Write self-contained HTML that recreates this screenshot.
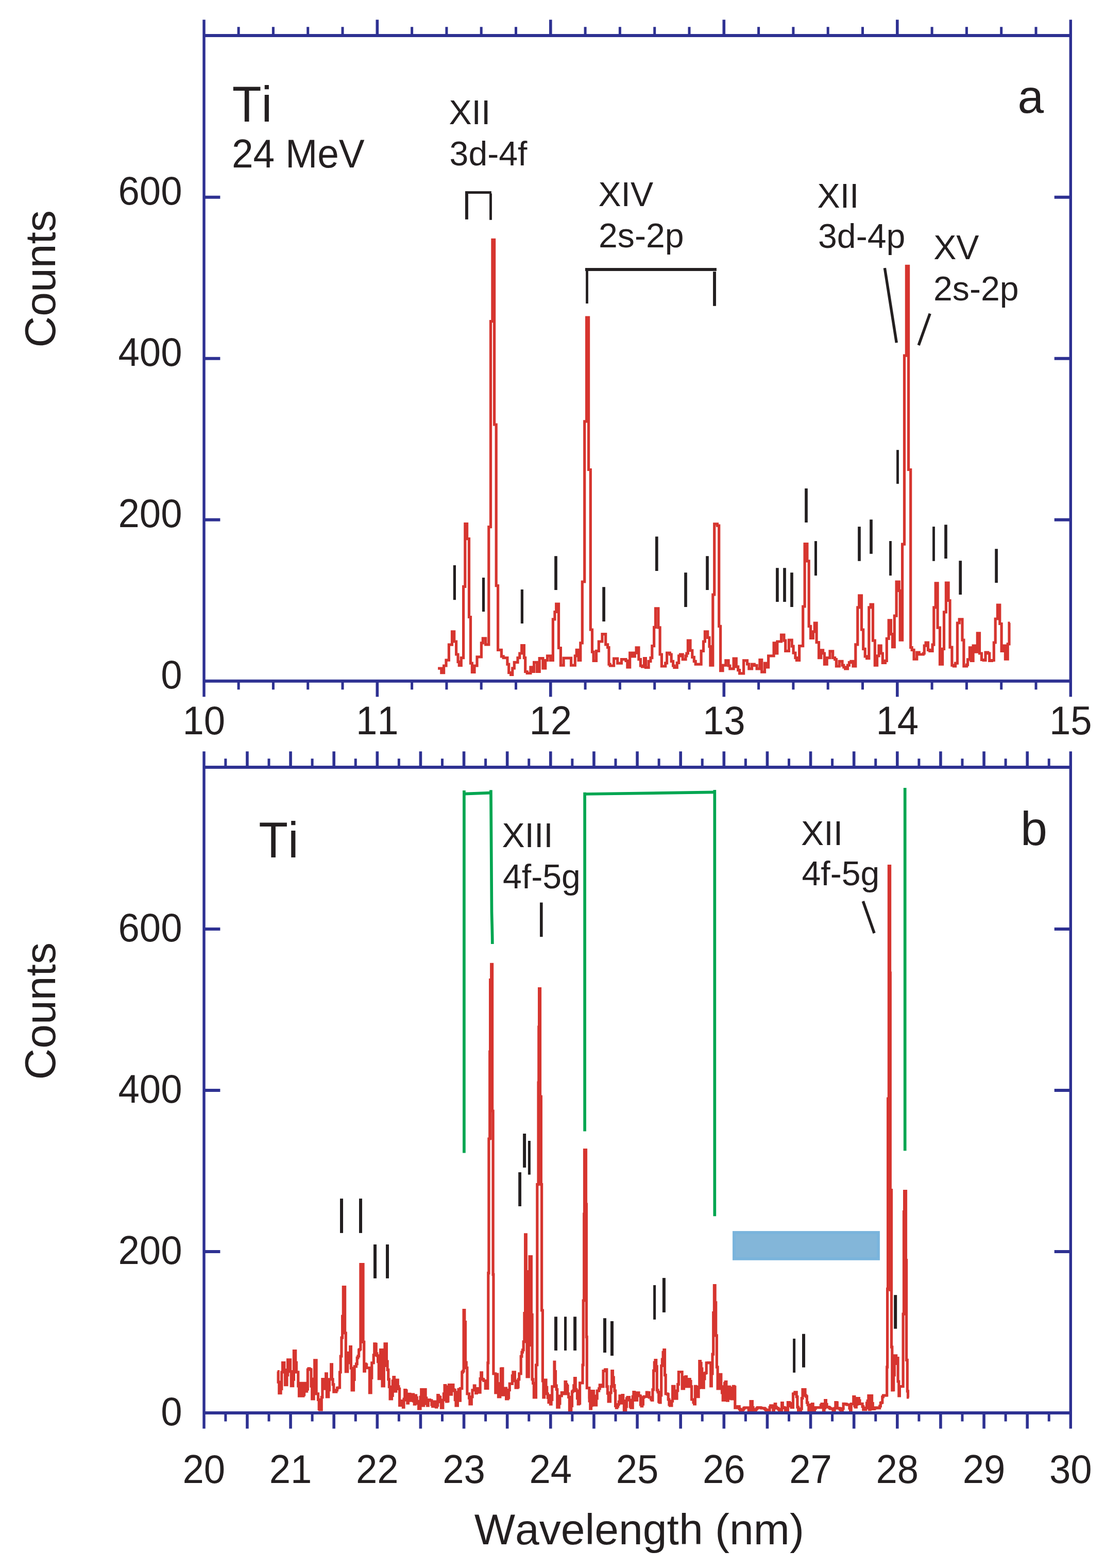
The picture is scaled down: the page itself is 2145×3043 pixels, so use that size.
<!DOCTYPE html>
<html lang="en"><head><meta charset="utf-8"><title>Ti spectra</title>
<style>html,body{margin:0;padding:0;background:#fff}body{width:2145px;height:3043px;overflow:hidden}svg{display:block}text{font-kerning:none;font-family:"Liberation Sans",sans-serif;fill:#231f20}</style>
</head><body>
<svg width="2145" height="3043" viewBox="0 0 2145 3043">
<rect width="2145" height="3043" fill="#fff"/>
<g fill="none" stroke="#d6352f" stroke-width="5.2" stroke-linejoin="miter" stroke-miterlimit="10">
<path d="M850.1 1297.2H856.8V1305.6H861.6V1292.0H866.0V1281.1H871.4V1251.2H877.5V1225.9H881.7V1245.0H885.6V1270.0H889.0V1284.3H891.3V1291.4H895.3V1276.7H899.6V1138.3H902.8V1016.5H906.6V1045.7H910.5V1197.5H913.5V1287.2H916.4V1304.5H921.0V1292.0H926.0V1274.8H934.4V1247.9H937.3V1238.9H942.7V1250.8H948.8V1022.7H952.5V623.6H955.9V465.3H959.6V824.0H963.2V1136.7H966.6V1261.3H973.4V1273.8H977.2V1276.7H984.9V1289.1H987.7V1305.4H991.6V1309.3H994.8V1296.8H998.3V1285.3H1005.0V1276.7H1008.8V1268.0H1012.7V1252.7H1017.4V1276.7H1019.7V1303.5H1023.2V1306.4H1029.9V1294.9H1032.8V1303.5H1036.6V1285.3H1042.4V1303.5H1047.2V1277.6H1053.9V1296.8H1058.7V1281.5H1062.5V1272.8H1068.2V1281.5H1073.4V1201.9H1076.9V1187.5H1079.7V1172.2H1084.5V1257.5H1088.4V1291.1H1094.1V1277.2H1101.9V1277.2H1108.6V1291.1H1116.3V1272.8H1119.2V1261.3H1123.0V1281.5H1126.8V1247.9H1130.3V1129.0H1134.7V817.8H1138.6V616.2H1142.6V911.5H1146.3V1222.0H1149.5V1265.2H1152.1V1282.4H1157.5V1263.3H1162.3V1245.0H1169.0V1230.7H1175.7V1250.8H1179.6V1256.5H1182.0V1289.1H1184.3V1292.0H1191.6V1278.0H1198.7V1287.2H1206.4V1279.6H1215.0V1282.4H1217.9V1294.9H1222.7V1267.1H1227.5V1273.8H1232.3V1267.1H1235.1V1256.9H1239.9V1279.6H1243.4V1292.0H1246.6V1293.9H1250.5V1277.6H1253.4V1295.3H1259.1V1283.4H1262.9V1276.7H1265.8V1253.7H1269.6V1217.3H1272.5V1180.8H1277.9V1217.8H1281.1V1270.0H1284.4V1293.0H1291.7V1286.8H1294.6V1267.1H1300.3V1270.0H1303.2V1283.4H1306.6V1292.0H1308.9V1295.3H1314.3V1286.3H1317.6V1272.8H1320.4V1270.0H1325.2V1279.6H1331.0V1272.8H1332.9V1268.0H1335.4V1243.1H1340.0V1262.3H1343.8V1275.3H1347.3V1283.4H1350.2V1289.1H1361.1V1263.3H1365.5V1245.0H1368.4V1225.9H1373.7V1237.4H1377.0V1254.6H1378.9V1291.1H1383.8V1154.0H1386.7V1016.9H1392.5V1020.2H1395.7V1215.3H1398.6V1301.6H1403.0V1291.1H1408.8V1281.9H1414.1V1292.0H1416.8V1297.8H1424.1V1278.0H1429.3V1293.9H1432.7V1300.6H1435.6V1306.8H1443.6V1281.9H1450.5V1288.8H1453.8V1297.8H1459.6V1289.1H1464.3V1291.4H1469.1V1297.8H1474.9V1280.5H1478.7V1304.1H1484.5V1287.2H1487.3V1294.9H1491.6V1272.8H1502.1V1247.9H1505.6V1268.0H1508.8V1245.0H1516.5V1232.0H1521.9V1243.1H1524.7V1263.3H1531.4V1242.2H1537.2V1254.2H1540.1V1267.1H1543.9V1276.7H1546.4V1281.5H1551.6V1253.7H1558.7V1177.0H1562.1V1055.7H1566.9V1088.8H1570.2V1215.3H1573.6V1238.3H1578.4V1225.9H1581.3V1209.0H1585.1V1246.6H1589.5V1276.7H1593.7V1261.9H1597.6V1268.0H1600.4V1289.1H1605.2V1276.7H1611.0V1263.8H1616.7V1276.7H1620.6V1279.6H1623.4V1293.0H1629.2V1283.4H1635.0V1291.1H1637.8V1294.9H1640.7V1297.8H1645.5V1291.1H1648.4V1285.7H1651.8V1283.4H1656.0V1293.0H1660.8V1250.8H1664.8V1178.9H1667.7V1155.9H1672.5V1222.0H1675.7V1259.4H1679.2V1273.8H1682.6V1277.6H1686.8V1178.9H1690.1V1173.2H1694.5V1243.1H1698.3V1291.1H1702.6V1272.8H1706.0V1253.1H1710.2V1268.0H1713.3V1286.3H1718.5V1282.4H1721.3V1239.3H1725.2V1203.8H1729.4V1230.7H1732.5V1255.6H1736.3V1195.2H1740.1V1129.1H1745.3V1146.3H1747.2V1242.2H1751.6V1056.2H1755.5V690.2H1759.4V516.4H1763.6V911.5H1767.7V1256.5H1770.2V1261.3H1774.1V1279.2H1779.8V1266.1H1784.2V1270.0H1792.3V1268.0H1794.2V1253.1H1797.1V1247.0H1801.5V1261.3H1804.7V1263.3H1810.1V1251.2H1812.8V1178.9H1816.2V1131.9H1820.1V1218.2H1824.5V1289.1H1829.6V1259.4H1832.5V1187.9H1836.4V1131.0H1841.1V1165.5H1844.0V1256.2H1847.9V1291.1H1851.3V1293.0H1854.6V1287.2H1858.4V1209.0H1862.2V1201.9H1868.0V1242.2H1870.9V1293.0H1876.6V1290.1H1878.5V1279.9H1882.4V1256.9H1885.2V1282.4H1889.1V1253.1H1892.9V1265.2H1897.3V1228.8H1901.5V1268.0H1905.4V1280.5H1909.2V1281.5H1913.0V1266.1H1917.8V1268.0H1920.7V1282.4H1925.5V1281.5H1929.3V1247.0H1932.2V1201.0H1936.4V1174.1H1940.8V1210.5H1944.1V1263.3H1947.5V1253.1H1951.4V1279.2H1956.2V1249.8H1959.0V1209.0H1960.6"/>
<path d="M538.6 2661.6H540.1V2682.2H541.8V2703.6H543.4V2703.6H545.1V2695.3H546.8V2663.0H548.5V2644.7H550.2V2644.7H551.9V2658.6H553.5V2687.6H555.2V2687.6H556.9V2668.7H558.6V2638.8H560.3V2638.8H562.0V2638.8H563.6V2661.6H565.3V2689.7H567.0V2689.7H568.7V2677.1H570.4V2621.7H572.1V2621.7H573.7V2644.3H575.4V2662.8H577.1V2662.8H578.8V2690.0H580.5V2709.2H582.1V2706.7H583.8V2684.4H585.5V2684.4H587.2V2709.2H588.9V2706.8H590.6V2684.4H592.2V2687.6H593.9V2700.1H595.6V2696.2H597.3V2658.0H599.0V2655.8H600.7V2657.0H602.3V2657.9H604.0V2690.1H605.7V2714.8H607.4V2714.8H609.1V2676.1H610.7V2639.8H612.4V2639.8H614.1V2704.8H615.8V2704.8H617.5V2716.4H619.2V2734.7H620.8V2735.9H622.5V2735.9H624.2V2711.6H625.9V2676.7H627.6V2676.7H629.3V2695.2H630.9V2686.9H632.6V2665.9H634.3V2710.8H636.0V2710.8H637.7V2697.7H639.4V2676.9H641.0V2676.9H642.7V2647.8H644.4V2676.9H646.1V2686.8H647.8V2701.1H649.4V2701.1H651.1V2701.1H652.8V2697.9H654.5V2693.7H656.2V2693.0H657.9V2693.0H659.5V2663.0H661.2V2632.0H662.9V2596.2H664.6V2554.4H666.3V2497.7H668.0V2497.7H669.6V2587.0H671.3V2661.8H673.0V2661.8H674.7V2644.8H676.4V2625.4H678.0V2625.4H679.7V2613.7H681.4V2655.2H683.1V2698.0H684.8V2698.0H686.5V2677.4H688.1V2651.8H689.8V2651.8H691.5V2646.8H693.2V2635.1H694.9V2631.8H696.6V2619.8H698.2V2618.5H699.9V2453.7H701.6V2453.7H703.3V2453.7H705.0V2604.3H706.7V2661.1H708.3V2646.8H710.0V2648.4H711.7V2654.6H717.4V2702.9H718.4V2702.9H720.1V2674.2H721.8V2644.9H723.5V2644.9H725.2V2629.9H726.8V2607.8H728.5V2608.6H730.2V2626.8H731.9V2630.8H733.6V2642.7H735.3V2675.7H736.9V2671.2H738.6V2619.6H740.3V2619.6H742.0V2689.9H743.7V2689.9H745.3V2650.4H747.0V2607.8H748.7V2607.8H750.4V2642.1H752.1V2658.3H753.8V2676.9H755.4V2691.4H757.1V2715.0H758.8V2715.0H760.5V2708.4H762.2V2679.9H763.9V2672.6H765.5V2686.4H767.2V2700.1H768.9V2683.9H770.6V2678.1H772.3V2690.9H774.0V2695.4H775.6V2727.3H777.3V2727.2H779.0V2718.6H780.7V2720.8H782.4V2731.2H784.0V2715.2H785.7V2697.7H787.4V2698.9H789.1V2717.2H790.8V2723.1H792.5V2713.7H794.1V2705.3H795.8V2711.1H797.5V2718.2H799.2V2718.2H800.9V2706.0H802.6V2719.2H804.2V2725.2H805.9V2708.1H807.6V2712.4H809.3V2719.3H811.0V2723.6H812.6V2734.0H814.3V2734.0H816.0V2711.3H817.7V2696.5H819.4V2696.5H821.1V2728.0H822.7V2698.1H824.4V2696.5H826.1V2713.2H827.8V2724.2H829.5V2728.0H831.2V2716.5H832.8V2716.7H834.5V2717.9H836.2V2717.9H837.9V2726.2H839.6V2729.4H841.2V2727.3H842.9V2720.0H844.6V2722.6H846.3V2730.8H848.0V2727.6H849.7V2707.7H851.3V2710.4H853.0V2711.6H854.7V2720.7H856.4V2732.2H858.1V2732.2H859.8V2717.0H861.4V2704.8H863.1V2688.6H864.8V2696.3H866.5V2720.0H868.2V2719.1H869.9V2691.1H871.5V2687.6H873.2V2696.2H874.9V2706.1H876.6V2699.1H878.3V2687.6H879.9V2696.9H881.6V2697.8H883.3V2716.7H885.0V2728.0H886.7V2728.0H888.4V2701.9H890.0V2696.3H891.7V2718.2H893.4V2694.6H895.1V2694.6H896.8V2663.1H898.5V2660.9H900.1V2542.7H901.8V2565.5H903.5V2644.2H905.2V2654.7H906.9V2704.8H908.6V2704.8H910.5V2713.2H911.9V2724.8H913.6V2724.8H915.3V2710.9H917.0V2697.8H918.6V2697.8H920.3V2689.0H922.0V2695.9H923.7V2703.6H925.4V2699.3H927.1V2694.6H928.7V2702.2H930.4V2702.2H932.1V2675.6H933.8V2663.9H935.5V2676.4H937.2V2676.9H938.8V2679.5H940.5V2679.5H942.2V2694.5H946.9V2644.9H947.8V2470.7H948.9V2210.0H950.7V2041.0H951.6V1901.5H953.7V1871.3H955.6V2156.0H957.1V2473.4H957.9V2665.8H961.8V2702.9H962.4V2674.7H964.1V2667.0H965.8V2684.8H967.4V2710.8H969.1V2710.8H970.8V2697.8H972.5V2656.3H974.2V2655.8H975.9V2707.1H977.5V2707.1H979.2V2698.5H980.9V2694.2H982.6V2714.8H984.3V2714.8H985.9V2712.7H987.6V2697.7H989.3V2685.3H991.0V2685.3H992.7V2685.3H994.4V2669.9H996.0V2662.8H997.7V2662.8H999.4V2679.9H1001.1V2693.1H1002.8V2693.1H1004.5V2692.0H1006.1V2676.8H1007.8V2665.8H1009.5V2665.8H1011.2V2632.3H1012.9V2624.1H1014.5V2619.8H1016.2V2603.8H1017.9V2548.7H1019.6V2395.8H1021.3V2467.6H1023.0V2671.8H1024.6V2671.8H1026.3V2610.7H1028.0V2438.6H1029.7V2438.6H1031.4V2551.4H1033.1V2676.9H1034.7V2684.3H1036.4V2712.0H1040.5V2649.0H1042.8V2298.6H1045.0V2101.2H1045.8V1993.1H1046.6V1918.7H1048.5V2128.2H1050.4V2298.6H1051.6V2543.0H1053.4V2680.0H1054.9V2712.0H1054.9V2712.0H1056.6V2688.5H1058.3V2678.1H1060.0V2692.4H1061.7V2704.8H1063.3V2712.4H1065.0V2721.7H1066.7V2708.1H1068.4V2725.2H1070.1V2716.5H1071.8V2690.9H1076.0V2643.0H1076.8V2661.5H1078.5V2689.0H1080.2V2696.5H1081.8V2731.2H1083.5V2731.2H1085.2V2724.0H1086.9V2709.0H1088.6V2709.0H1090.3V2702.5H1091.9V2702.8H1093.6V2704.5H1095.3V2704.8H1097.0V2681.6H1098.7V2686.9H1100.4V2689.5H1102.0V2704.8H1103.7V2711.3H1105.4V2737.1H1107.1V2737.1H1108.8V2728.4H1110.5V2700.8H1112.1V2699.2H1113.8V2688.9H1115.5V2674.7H1117.2V2696.4H1118.9V2699.2H1120.5V2713.6H1122.2V2724.8H1123.9V2723.4H1125.6V2683.9H1131.0V2649.0H1132.2V2524.0H1133.7V2356.0H1134.5V2231.6H1137.5V2337.0H1138.4V2594.7H1139.3V2693.7H1143.9V2711.8H1144.1V2718.9H1145.8V2734.0H1147.5V2727.6H1149.1V2699.7H1150.8V2699.7H1152.5V2709.0H1154.2V2727.0H1155.9V2727.0H1157.6V2713.8H1159.2V2699.2H1160.9V2699.2H1162.6V2694.9H1164.3V2687.9H1166.0V2687.9H1167.7V2688.8H1169.3V2690.9H1171.0V2660.7H1172.7V2660.7H1174.4V2658.2H1176.1V2657.9H1177.8V2690.9H1179.4V2704.1H1181.1V2720.0H1182.8V2720.0H1184.5V2702.9H1186.2V2690.9H1187.8V2660.7H1189.5V2673.0H1191.2V2688.5H1192.9V2699.2H1194.6V2728.4H1196.3V2732.2H1197.9V2729.3H1199.6V2725.7H1201.3V2720.4H1203.0V2708.8H1204.7V2723.1H1206.4V2716.6H1208.0V2707.7H1209.7V2718.7H1211.4V2737.1H1213.1V2737.1H1214.8V2730.0H1216.4V2714.0H1218.1V2711.6H1219.8V2711.6H1221.5V2717.2H1223.2V2729.8H1224.9V2732.2H1226.5V2732.2H1228.2V2710.4H1229.9V2701.6H1231.6V2703.5H1233.3V2717.5H1235.0V2717.5H1236.6V2702.9H1238.3V2702.9H1240.0V2708.7H1241.7V2709.0H1243.4V2726.0H1245.1V2729.0H1246.7V2725.1H1248.4V2711.8H1250.1V2710.4H1255.3V2702.0H1256.8V2702.5H1258.5V2702.5H1260.2V2711.8H1261.9V2711.8H1263.6V2715.1H1265.2V2717.3H1266.9V2696.9H1268.6V2660.2H1270.3V2644.2H1272.0V2639.5H1273.7V2651.8H1275.3V2697.8H1277.0V2701.6H1278.7V2720.1H1280.4V2722.0H1282.1V2708.0H1283.7V2650.5H1285.4V2638.1H1287.1V2624.4H1288.8V2619.6H1290.5V2668.6H1292.2V2704.8H1293.8V2704.8H1295.5V2705.8H1297.2V2715.9H1298.9V2726.0H1300.6V2728.0H1302.3V2728.0H1303.9V2719.1H1305.6V2690.4H1307.3V2690.4H1309.0V2702.7H1310.7V2714.1H1312.4V2714.1H1314.0V2699.0H1315.7V2686.7H1317.4V2662.5H1319.1V2662.5H1320.8V2662.5H1322.4V2662.5H1324.1V2695.0H1325.8V2695.0H1327.5V2689.3H1329.2V2672.9H1330.9V2671.6H1332.5V2690.9H1334.2V2690.9H1335.9V2681.8H1337.6V2676.5H1339.3V2680.7H1341.0V2690.9H1342.6V2716.0H1344.3V2716.0H1346.0V2721.7H1347.7V2724.8H1349.4V2690.4H1351.0V2691.6H1352.7V2710.6H1354.4V2710.6H1356.1V2693.4H1357.8V2641.6H1359.5V2645.6H1361.1V2656.0H1362.8V2693.0H1364.5V2693.1H1366.2V2675.8H1367.9V2665.1H1369.6V2664.3H1371.2V2644.9H1372.9V2644.9H1374.6V2644.7H1376.3V2644.7H1378.0V2644.7H1379.7V2689.9H1381.3V2666.0H1383.0V2628.2H1384.7V2547.7H1386.4V2494.6H1388.1V2527.8H1389.7V2591.9H1391.4V2653.2H1393.1V2695.0H1394.8V2695.0H1396.5V2668.8H1398.2V2667.4H1399.8V2690.9H1401.5V2702.9H1403.2V2717.3H1404.9V2717.3H1406.6V2684.3H1408.3V2681.6H1409.9V2701.7H1411.6V2718.2H1413.3V2708.7H1415.0V2691.4H1416.7V2693.7H1418.3V2714.1H1420.0V2715.0H1421.7V2706.7H1423.4V2690.4H1425.1V2691.8H1426.8V2732.2H1428.4V2732.2H1430.1V2730.1H1431.8V2729.7H1433.5V2729.7H1435.2V2734.3H1436.9V2737.1H1438.5V2737.1H1440.2V2737.1H1441.9V2735.3H1443.6V2732.9H1445.3V2731.8H1447.0V2731.8H1453.2V2739.1H1453.7V2740.7H1455.4V2741.4H1457.0V2719.7H1458.7V2719.7H1460.4V2731.5H1462.1V2736.8H1463.8V2736.8H1465.5V2736.8H1467.1V2735.0H1468.8V2733.0H1470.5V2731.6H1472.2V2731.6H1473.9V2731.6H1475.6V2731.8H1477.2V2732.6H1478.9V2732.9H1480.6V2732.9H1482.3V2732.9H1484.0V2733.9H1485.6V2735.5H1487.3V2736.8H1489.0V2736.8H1490.7V2736.8H1492.4V2736.4H1494.1V2731.0H1495.7V2727.8H1497.4V2727.8H1499.1V2731.2H1500.8V2736.8H1502.5V2729.5H1504.2V2724.7H1505.8V2730.8H1507.5V2732.9H1509.2V2732.9H1510.9V2734.9H1512.6V2738.2H1514.2V2739.1H1515.9V2738.9H1517.6V2722.7H1519.3V2731.3H1521.0V2731.3H1522.7V2732.4H1524.3V2737.6H1526.0V2741.4H1527.7V2741.4H1529.4V2721.6H1531.1V2721.6H1532.8V2723.7H1534.4V2728.7H1536.1V2731.3H1537.8V2731.3H1539.5V2705.1H1541.2V2704.5H1542.9V2701.8H1544.5V2701.8H1546.2V2710.6H1547.9V2730.9H1549.6V2741.4H1551.3V2741.4H1552.9V2741.4H1554.6V2733.8H1556.3V2713.5H1558.0V2696.5H1559.7V2696.5H1561.4V2696.5H1563.0V2708.2H1564.7V2710.1H1566.4V2722.1H1568.1V2726.5H1569.8V2741.4H1571.5V2741.4H1573.1V2738.3H1574.8V2726.0H1576.5V2724.7H1578.2V2736.8H1579.9V2736.8H1581.6V2733.3H1583.2V2731.6H1584.9V2731.6H1586.6V2731.6H1588.3V2731.6H1590.0V2731.6H1591.6V2731.6H1593.3V2727.1H1595.0V2724.7H1596.7V2724.7H1598.4V2741.4H1600.1V2732.4H1601.7V2717.7H1603.4V2725.4H1605.1V2730.6H1606.8V2730.6H1608.5V2731.2H1610.2V2732.6H1611.8V2733.9H1613.5V2733.9H1615.2V2733.9H1616.9V2739.5H1618.6V2741.4H1620.2V2733.0H1621.9V2721.6H1623.6V2722.0H1625.3V2732.9H1627.0V2732.9H1628.7V2733.1H1630.3V2735.3H1632.0V2736.3H1633.7V2736.3H1635.4V2733.5H1637.1V2724.4H1638.8V2724.7H1640.4V2724.7H1642.1V2725.1H1643.8V2726.0H1645.5V2726.2H1647.2V2726.2H1648.9V2733.0H1650.5V2739.1H1652.2V2724.7H1656.8V2710.5H1657.3V2710.5H1658.9V2728.7H1660.6V2730.8H1662.3V2725.3H1664.0V2713.7H1665.7V2713.7H1667.4V2718.2H1669.0V2724.3H1670.7V2724.3H1672.4V2724.3H1674.1V2729.7H1675.8V2735.7H1677.5V2735.7H1679.1V2735.7H1680.8V2732.3H1682.5V2722.9H1684.2V2718.7H1685.9V2708.5H1687.5V2735.7H1689.2V2715.9H1690.9V2708.5H1692.6V2723.5H1694.3V2734.3H1696.0V2734.3H1697.6V2733.0H1699.3V2731.8H1701.0V2731.8H1702.7V2732.0H1704.4V2732.6H1706.1V2732.7H1707.7V2728.8H1709.4V2722.7H1711.1V2721.9H1712.8V2710.8H1714.5V2708.1H1720.6V2708.0H1721.7V2653.2H1722.6V2501.3H1723.6V2132.1H1725.4V1680.6H1727.6V1888.2H1728.3V2309.6H1730.5V2614.2H1731.8V2697.8H1732.9V2697.7H1733.0V2697.7H1734.7V2668.6H1736.3V2630.8H1738.0V2630.8H1739.7V2646.4H1741.4V2635.6H1743.1V2681.0H1744.8V2708.9H1746.4V2690.7H1753.1V2550.1H1754.5V2351.6H1755.6V2311.6H1758.5V2445.7H1759.6V2639.3H1761.3V2699.9H1762.5V2712.0H1764.5" stroke-width="5.2"/>
<path d="M1726.9 2300V2506M953.1 2148V2212M1047.8 2125V2299" stroke-width="3"/>
</g>
<g fill="none" stroke="#2e3192">
<path d="M396.00 38.3V1352.3M2078.30 38.3V1352.3" stroke-width="5.4"/>
<path d="M395.8 68.90H2078.3M395.8 1321.70H2078.3M395.8 1008.70h31.6M2078.3 1008.70h-31.6M395.8 695.70h31.6M2078.3 695.70h-31.6M395.8 382.70h31.6M2078.3 382.70h-31.6" stroke-width="6"/>
<path d="M732.30 38.3V70.9M732.30 1319.7V1352.3M1068.80 38.3V70.9M1068.80 1319.7V1352.3M1405.30 38.3V70.9M1405.30 1319.7V1352.3M1741.80 38.3V70.9M1741.80 1319.7V1352.3" stroke-width="5.6"/>
<path d="M463.10 52.3V70.9M463.10 1319.7V1338.3M530.40 52.3V70.9M530.40 1319.7V1338.3M597.70 52.3V70.9M597.70 1319.7V1338.3M665.00 52.3V70.9M665.00 1319.7V1338.3M799.60 52.3V70.9M799.60 1319.7V1338.3M866.90 52.3V70.9M866.90 1319.7V1338.3M934.20 52.3V70.9M934.20 1319.7V1338.3M1001.50 52.3V70.9M1001.50 1319.7V1338.3M1136.10 52.3V70.9M1136.10 1319.7V1338.3M1203.40 52.3V70.9M1203.40 1319.7V1338.3M1270.70 52.3V70.9M1270.70 1319.7V1338.3M1338.00 52.3V70.9M1338.00 1319.7V1338.3M1472.60 52.3V70.9M1472.60 1319.7V1338.3M1539.90 52.3V70.9M1539.90 1319.7V1338.3M1607.20 52.3V70.9M1607.20 1319.7V1338.3M1674.50 52.3V70.9M1674.50 1319.7V1338.3M1809.10 52.3V70.9M1809.10 1319.7V1338.3M1876.40 52.3V70.9M1876.40 1319.7V1338.3M1943.70 52.3V70.9M1943.70 1319.7V1338.3M2011.00 52.3V70.9M2011.00 1319.7V1338.3" stroke-width="5"/>
</g>
<g fill="none" stroke="#2e3192">
<path d="M396.00 1458.3V2772.5M2078.30 1458.3V2772.5" stroke-width="5.4"/>
<path d="M395.8 1488.90H2078.3M395.8 2741.90H2078.3M395.8 2428.90h31.6M2078.3 2428.90h-31.6M395.8 2115.90h31.6M2078.3 2115.90h-31.6M395.8 1802.90h31.6M2078.3 1802.90h-31.6" stroke-width="6"/>
<path d="M479.93 1458.3V1490.9M479.93 2739.9V2772.5M564.05 1458.3V1490.9M564.05 2739.9V2772.5M648.17 1458.3V1490.9M648.17 2739.9V2772.5M732.30 1458.3V1490.9M732.30 2739.9V2772.5M816.42 1458.3V1490.9M816.42 2739.9V2772.5M900.55 1458.3V1490.9M900.55 2739.9V2772.5M984.67 1458.3V1490.9M984.67 2739.9V2772.5M1068.80 1458.3V1490.9M1068.80 2739.9V2772.5M1152.92 1458.3V1490.9M1152.92 2739.9V2772.5M1237.05 1458.3V1490.9M1237.05 2739.9V2772.5M1321.17 1458.3V1490.9M1321.17 2739.9V2772.5M1405.30 1458.3V1490.9M1405.30 2739.9V2772.5M1489.42 1458.3V1490.9M1489.42 2739.9V2772.5M1573.55 1458.3V1490.9M1573.55 2739.9V2772.5M1657.67 1458.3V1490.9M1657.67 2739.9V2772.5M1741.80 1458.3V1490.9M1741.80 2739.9V2772.5M1825.92 1458.3V1490.9M1825.92 2739.9V2772.5M1910.05 1458.3V1490.9M1910.05 2739.9V2772.5M1994.17 1458.3V1490.9M1994.17 2739.9V2772.5" stroke-width="5.6"/>
<path d="M437.86 1472.3V1490.9M437.86 2739.9V2758.5M521.99 1472.3V1490.9M521.99 2739.9V2758.5M606.11 1472.3V1490.9M606.11 2739.9V2758.5M690.24 1472.3V1490.9M690.24 2739.9V2758.5M774.36 1472.3V1490.9M774.36 2739.9V2758.5M858.49 1472.3V1490.9M858.49 2739.9V2758.5M942.61 1472.3V1490.9M942.61 2739.9V2758.5M1026.74 1472.3V1490.9M1026.74 2739.9V2758.5M1110.86 1472.3V1490.9M1110.86 2739.9V2758.5M1194.99 1472.3V1490.9M1194.99 2739.9V2758.5M1279.11 1472.3V1490.9M1279.11 2739.9V2758.5M1363.24 1472.3V1490.9M1363.24 2739.9V2758.5M1447.36 1472.3V1490.9M1447.36 2739.9V2758.5M1531.49 1472.3V1490.9M1531.49 2739.9V2758.5M1615.61 1472.3V1490.9M1615.61 2739.9V2758.5M1699.74 1472.3V1490.9M1699.74 2739.9V2758.5M1783.86 1472.3V1490.9M1783.86 2739.9V2758.5M1867.99 1472.3V1490.9M1867.99 2739.9V2758.5M1952.11 1472.3V1490.9M1952.11 2739.9V2758.5M2036.24 1472.3V1490.9M2036.24 2739.9V2758.5" stroke-width="5"/>
</g>
<text transform="translate(395.8 1425.0) scale(1 1.037)" font-size="74.4" text-anchor="middle">10</text>
<text transform="translate(732.3 1425.0) scale(1 1.037)" font-size="74.4" text-anchor="middle">11</text>
<text transform="translate(1068.8 1425.0) scale(1 1.037)" font-size="74.4" text-anchor="middle">12</text>
<text transform="translate(1405.3 1425.0) scale(1 1.037)" font-size="74.4" text-anchor="middle">13</text>
<text transform="translate(1741.8 1425.0) scale(1 1.037)" font-size="74.4" text-anchor="middle">14</text>
<text transform="translate(2078.3 1425.0) scale(1 1.037)" font-size="74.4" text-anchor="middle">15</text>
<text transform="translate(395.8 2878.2) scale(1 1.037)" font-size="74.4" text-anchor="middle">20</text>
<text transform="translate(564.0 2878.2) scale(1 1.037)" font-size="74.4" text-anchor="middle">21</text>
<text transform="translate(732.3 2878.2) scale(1 1.037)" font-size="74.4" text-anchor="middle">22</text>
<text transform="translate(900.5 2878.2) scale(1 1.037)" font-size="74.4" text-anchor="middle">23</text>
<text transform="translate(1068.8 2878.2) scale(1 1.037)" font-size="74.4" text-anchor="middle">24</text>
<text transform="translate(1237.0 2878.2) scale(1 1.037)" font-size="74.4" text-anchor="middle">25</text>
<text transform="translate(1405.3 2878.2) scale(1 1.037)" font-size="74.4" text-anchor="middle">26</text>
<text transform="translate(1573.5 2878.2) scale(1 1.037)" font-size="74.4" text-anchor="middle">27</text>
<text transform="translate(1741.8 2878.2) scale(1 1.037)" font-size="74.4" text-anchor="middle">28</text>
<text transform="translate(1910.0 2878.2) scale(1 1.037)" font-size="74.4" text-anchor="middle">29</text>
<text transform="translate(2078.3 2878.2) scale(1 1.037)" font-size="74.4" text-anchor="middle">30</text>
<text transform="translate(353.6 1335.6) scale(1 1.037)" font-size="74.4" text-anchor="end">0</text>
<text transform="translate(353.6 2765.9) scale(1 1.037)" font-size="74.4" text-anchor="end">0</text>
<text transform="translate(353.6 1022.6) scale(1 1.037)" font-size="74.4" text-anchor="end">200</text>
<text transform="translate(353.6 2452.9) scale(1 1.037)" font-size="74.4" text-anchor="end">200</text>
<text transform="translate(353.6 709.6) scale(1 1.037)" font-size="74.4" text-anchor="end">400</text>
<text transform="translate(353.6 2139.9) scale(1 1.037)" font-size="74.4" text-anchor="end">400</text>
<text transform="translate(353.6 396.6) scale(1 1.037)" font-size="74.4" text-anchor="end">600</text>
<text transform="translate(353.6 1826.9) scale(1 1.037)" font-size="74.4" text-anchor="end">600</text>
<text transform="translate(106.5 541.3) rotate(-90)" font-size="84.1" text-anchor="middle">Counts</text>
<text transform="translate(106.5 1962.2) rotate(-90)" font-size="84.1" text-anchor="middle">Counts</text>
<text x="1240.8" y="2996.7" font-size="84.1" text-anchor="middle">Wavelength (nm)</text>
<text transform="translate(450.8 236.3) scale(1 1.05)" font-size="93.0" text-anchor="start">Ti</text>
<text transform="translate(450.0 324.8) scale(1 1.03)" font-size="74.8" text-anchor="start">24 MeV</text>
<text x="1975.5" y="219.3" font-size="91" text-anchor="start">a</text>
<text transform="translate(502.3 1663.8) scale(1 1.05)" font-size="93.0" text-anchor="start">Ti</text>
<text x="1981.0" y="1640.0" font-size="93.5" text-anchor="start">b</text>
<text transform="translate(871.4 240.9) scale(1 1.02)" font-size="66.2" text-anchor="start">XII</text>
<text transform="translate(872.6 321.0) scale(1 1.02)" font-size="66.2" text-anchor="start">3d-4f</text>
<text transform="translate(1161.4 400.4) scale(1 1.02)" font-size="66.2" text-anchor="start">XIV</text>
<text transform="translate(1162.0 480.4) scale(1 1.02)" font-size="66.2" text-anchor="start">2s-2p</text>
<text transform="translate(1586.5 403.0) scale(1 1.02)" font-size="66.2" text-anchor="start">XII</text>
<text transform="translate(1588.0 481.4) scale(1 1.02)" font-size="66.2" text-anchor="start">3d-4p</text>
<text transform="translate(1812.2 502.5) scale(1 1.02)" font-size="66.2" text-anchor="start">XV</text>
<text transform="translate(1812.0 582.6) scale(1 1.02)" font-size="66.2" text-anchor="start">2s-2p</text>
<g fill="#231f20">
<rect x="903" y="371.1" width="50.8" height="4.9"/>
<rect x="903" y="371.6" width="5.9" height="54.2"/>
<rect x="950.1" y="375.5" width="4.8" height="51.3"/>
<rect x="1135.9" y="520.05" width="255" height="5.9"/>
<rect x="1137.1" y="523" width="4.8" height="66"/>
<rect x="1384.05" y="527.1" width="5.9" height="66.7"/>
</g>
<line x1="1717.4" y1="520.2" x2="1740.3" y2="665.2" stroke="#231f20" stroke-width="5.4" stroke-linecap="butt"/>
<line x1="1805.2" y1="608.6" x2="1783.2" y2="670.0" stroke="#231f20" stroke-width="5.4" stroke-linecap="butt"/>
<text transform="translate(974.4 1643.5) scale(1 1.02)" font-size="66.2" text-anchor="start">XIII</text>
<text transform="translate(976.0 1723.6) scale(1 1.02)" font-size="66.2" text-anchor="start">4f-5g</text>
<text transform="translate(1555.1 1639.7) scale(1 1.02)" font-size="66.2" text-anchor="start">XII</text>
<text transform="translate(1556.5 1718.0) scale(1 1.02)" font-size="66.2" text-anchor="start">4f-5g</text>
<line x1="1675.3" y1="1749.0" x2="1697.1" y2="1811.0" stroke="#231f20" stroke-width="5.4" stroke-linecap="butt"/>
<line x1="882.4" y1="1097.0" x2="882.4" y2="1164.2" stroke="#231f20" stroke-width="5.2" stroke-linecap="butt"/>
<line x1="938.5" y1="1121.0" x2="938.5" y2="1187.0" stroke="#231f20" stroke-width="5.2" stroke-linecap="butt"/>
<line x1="1013.4" y1="1144.0" x2="1013.4" y2="1210.0" stroke="#231f20" stroke-width="5.2" stroke-linecap="butt"/>
<line x1="1079.0" y1="1079.2" x2="1079.0" y2="1145.0" stroke="#231f20" stroke-width="5.7" stroke-linecap="butt"/>
<line x1="1172.1" y1="1139.2" x2="1172.1" y2="1206.1" stroke="#231f20" stroke-width="5.7" stroke-linecap="butt"/>
<line x1="1274.8" y1="1041.3" x2="1274.8" y2="1108.0" stroke="#231f20" stroke-width="5.7" stroke-linecap="butt"/>
<line x1="1331.0" y1="1111.2" x2="1331.0" y2="1178.0" stroke="#231f20" stroke-width="5.7" stroke-linecap="butt"/>
<line x1="1373.0" y1="1079.2" x2="1373.0" y2="1145.0" stroke="#231f20" stroke-width="5.7" stroke-linecap="butt"/>
<line x1="1508.9" y1="1102.2" x2="1508.9" y2="1168.0" stroke="#231f20" stroke-width="5.7" stroke-linecap="butt"/>
<line x1="1523.0" y1="1102.2" x2="1523.0" y2="1168.0" stroke="#231f20" stroke-width="5.7" stroke-linecap="butt"/>
<line x1="1537.0" y1="1111.2" x2="1537.0" y2="1178.0" stroke="#231f20" stroke-width="5.7" stroke-linecap="butt"/>
<line x1="1565.0" y1="947.9" x2="1565.0" y2="1014.0" stroke="#231f20" stroke-width="5.7" stroke-linecap="butt"/>
<line x1="1583.5" y1="1050.1" x2="1583.5" y2="1117.0" stroke="#231f20" stroke-width="5.0" stroke-linecap="butt"/>
<line x1="1668.0" y1="1022.1" x2="1668.0" y2="1088.8" stroke="#231f20" stroke-width="5.7" stroke-linecap="butt"/>
<line x1="1691.0" y1="1008.3" x2="1691.0" y2="1074.8" stroke="#231f20" stroke-width="5.7" stroke-linecap="butt"/>
<line x1="1728.5" y1="1050.0" x2="1728.5" y2="1117.0" stroke="#231f20" stroke-width="4.8" stroke-linecap="butt"/>
<line x1="1742.5" y1="873.2" x2="1742.5" y2="938.9" stroke="#231f20" stroke-width="4.8" stroke-linecap="butt"/>
<line x1="1812.5" y1="1022.0" x2="1812.5" y2="1088.8" stroke="#231f20" stroke-width="4.8" stroke-linecap="butt"/>
<line x1="1836.0" y1="1018.3" x2="1836.0" y2="1084.0" stroke="#231f20" stroke-width="5.7" stroke-linecap="butt"/>
<line x1="1864.2" y1="1088.2" x2="1864.2" y2="1154.0" stroke="#231f20" stroke-width="5.7" stroke-linecap="butt"/>
<line x1="1934.1" y1="1065.2" x2="1934.1" y2="1131.0" stroke="#231f20" stroke-width="5.7" stroke-linecap="butt"/>
<line x1="663.0" y1="2326.1" x2="663.0" y2="2392.9" stroke="#231f20" stroke-width="6.0" stroke-linecap="butt"/>
<line x1="700.0" y1="2326.1" x2="700.0" y2="2392.9" stroke="#231f20" stroke-width="6.0" stroke-linecap="butt"/>
<line x1="728.0" y1="2415.1" x2="728.0" y2="2480.9" stroke="#231f20" stroke-width="6.0" stroke-linecap="butt"/>
<line x1="752.0" y1="2415.1" x2="752.0" y2="2480.9" stroke="#231f20" stroke-width="6.0" stroke-linecap="butt"/>
<line x1="1009.1" y1="2275.0" x2="1009.1" y2="2341.0" stroke="#231f20" stroke-width="5.8" stroke-linecap="butt"/>
<line x1="1018.1" y1="2200.0" x2="1018.1" y2="2265.9" stroke="#231f20" stroke-width="6.0" stroke-linecap="butt"/>
<line x1="1027.4" y1="2214.0" x2="1027.4" y2="2279.6" stroke="#231f20" stroke-width="5.0" stroke-linecap="butt"/>
<line x1="1050.8" y1="1751.5" x2="1050.8" y2="1818.1" stroke="#231f20" stroke-width="5.6" stroke-linecap="butt"/>
<line x1="1079.0" y1="2555.3" x2="1079.0" y2="2620.9" stroke="#231f20" stroke-width="6.0" stroke-linecap="butt"/>
<line x1="1097.5" y1="2555.3" x2="1097.5" y2="2620.9" stroke="#231f20" stroke-width="5.0" stroke-linecap="butt"/>
<line x1="1116.1" y1="2555.3" x2="1116.1" y2="2620.9" stroke="#231f20" stroke-width="6.0" stroke-linecap="butt"/>
<line x1="1174.0" y1="2558.2" x2="1174.0" y2="2625.0" stroke="#231f20" stroke-width="6.0" stroke-linecap="butt"/>
<line x1="1188.0" y1="2564.0" x2="1188.0" y2="2631.0" stroke="#231f20" stroke-width="6.0" stroke-linecap="butt"/>
<line x1="1270.6" y1="2494.1" x2="1270.6" y2="2560.8" stroke="#231f20" stroke-width="5.0" stroke-linecap="butt"/>
<line x1="1288.9" y1="2480.1" x2="1288.9" y2="2546.9" stroke="#231f20" stroke-width="6.0" stroke-linecap="butt"/>
<line x1="1541.6" y1="2597.9" x2="1541.6" y2="2663.8" stroke="#231f20" stroke-width="5.0" stroke-linecap="butt"/>
<line x1="1560.0" y1="2588.7" x2="1560.0" y2="2653.7" stroke="#231f20" stroke-width="6.0" stroke-linecap="butt"/>
<line x1="1738.2" y1="2513.2" x2="1738.2" y2="2578.7" stroke="#231f20" stroke-width="6.0" stroke-linecap="butt"/>
<g fill="none" stroke="#00a651" stroke-width="5.7" stroke-linejoin="miter">
<path d="M900.9 2237.4V1534.1"/>
<path d="M900.9 1540.6L952.9 1538.7"/>
<path d="M952.9 1533.2C953.1 1640 953.6 1730 954.5 1770C955.2 1800 955.8 1815 955.8 1831.9"/>
<path d="M1135.1 2195.6V1537.8"/>
<path d="M1135.1 1541L1387.3 1537.4"/>
<path d="M1387.3 1533.1V2360.2"/>
<path d="M1756.7 1529V2233.2"/>
</g>
<rect x="1424.9" y="2392" width="280.1" height="50.9" fill="#83b6d9" stroke="#7ab4dc" stroke-width="5.8"/>
</svg></body></html>
